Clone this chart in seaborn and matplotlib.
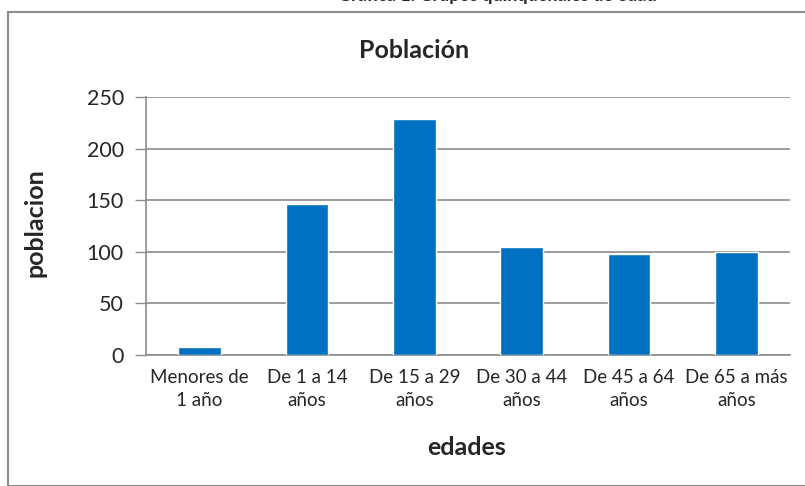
import matplotlib
matplotlib.use("Agg")
import matplotlib.pyplot as plt
import seaborn as sns
import pandas as pd
from matplotlib.patches import Rectangle

categorias = ["Menores de\n1 año", "De 1 a 14\naños", "De 15 a 29\naños",
              "De 30 a 44\naños", "De 45 a 64\naños", "De 65 a más\naños"]
poblacion = [8, 146, 229, 105, 98, 100]
yticks = [0, 50, 100, 150, 200, 250]

sns.set_theme(style="white")
plt.rcParams['font.family'] = ['Lato', 'DejaVu Sans']

df = pd.DataFrame({"edades": categorias, "poblacion": poblacion})

W, H = 805, 486
fig = plt.figure(figsize=(W/100, H/100), dpi=100)
ax = fig.add_axes([146/W, 1-355/H, (790-146)/W, (355-97)/H])

sns.barplot(data=df, x="edades", y="poblacion", color="#0070C0", width=0.4,
            saturation=1, ax=ax, zorder=3)

ax.set_ylim(0, 250)
ax.set_yticks(yticks)
ax.set_yticklabels([str(v) for v in yticks], fontsize=15.5)
ax.yaxis.grid(True, color="#8C8C8C", linewidth=1.2, zorder=0)
ax.set_axisbelow(True)
ax.tick_params(axis="y", length=8, width=1, color="#8C8C8C", left=True, pad=8)
ax.tick_params(axis="x", length=0, labelsize=13.5, pad=10)
for lbl in ax.get_xticklabels():
    lbl.set_multialignment("center")
    lbl.set_linespacing(1.45)
for s in ["top", "right"]:
    ax.spines[s].set_visible(False)
for s in ["left", "bottom"]:
    ax.spines[s].set_color("#8C8C8C")
    ax.spines[s].set_linewidth(1.2)

ax.set_xlabel("")
ax.set_ylabel("")
fig.text(467/W, 1-447/H, "edades", fontsize=18, fontweight="bold",
         ha="center", va="center")
fig.text(35/W, 1-223/H, "poblacion", fontsize=18, fontweight="bold",
         ha="center", va="center", rotation=90)
fig.text(414/W, 1-50/H, "Población", fontsize=18, fontweight="bold",
         ha="center", va="center")
fig.text(497/W, 1-1.0/H, "Gráfica 1. Grupos quinquenales de edad",
         fontsize=13, fontweight="bold", ha="center", va="baseline")

fig.patches.append(Rectangle((8/W, 0), 1.0, 1-12/H, transform=fig.transFigure,
                             fill=False, edgecolor="#8C8C8C", linewidth=1.5))

fig.savefig("out.png", dpi=100)
